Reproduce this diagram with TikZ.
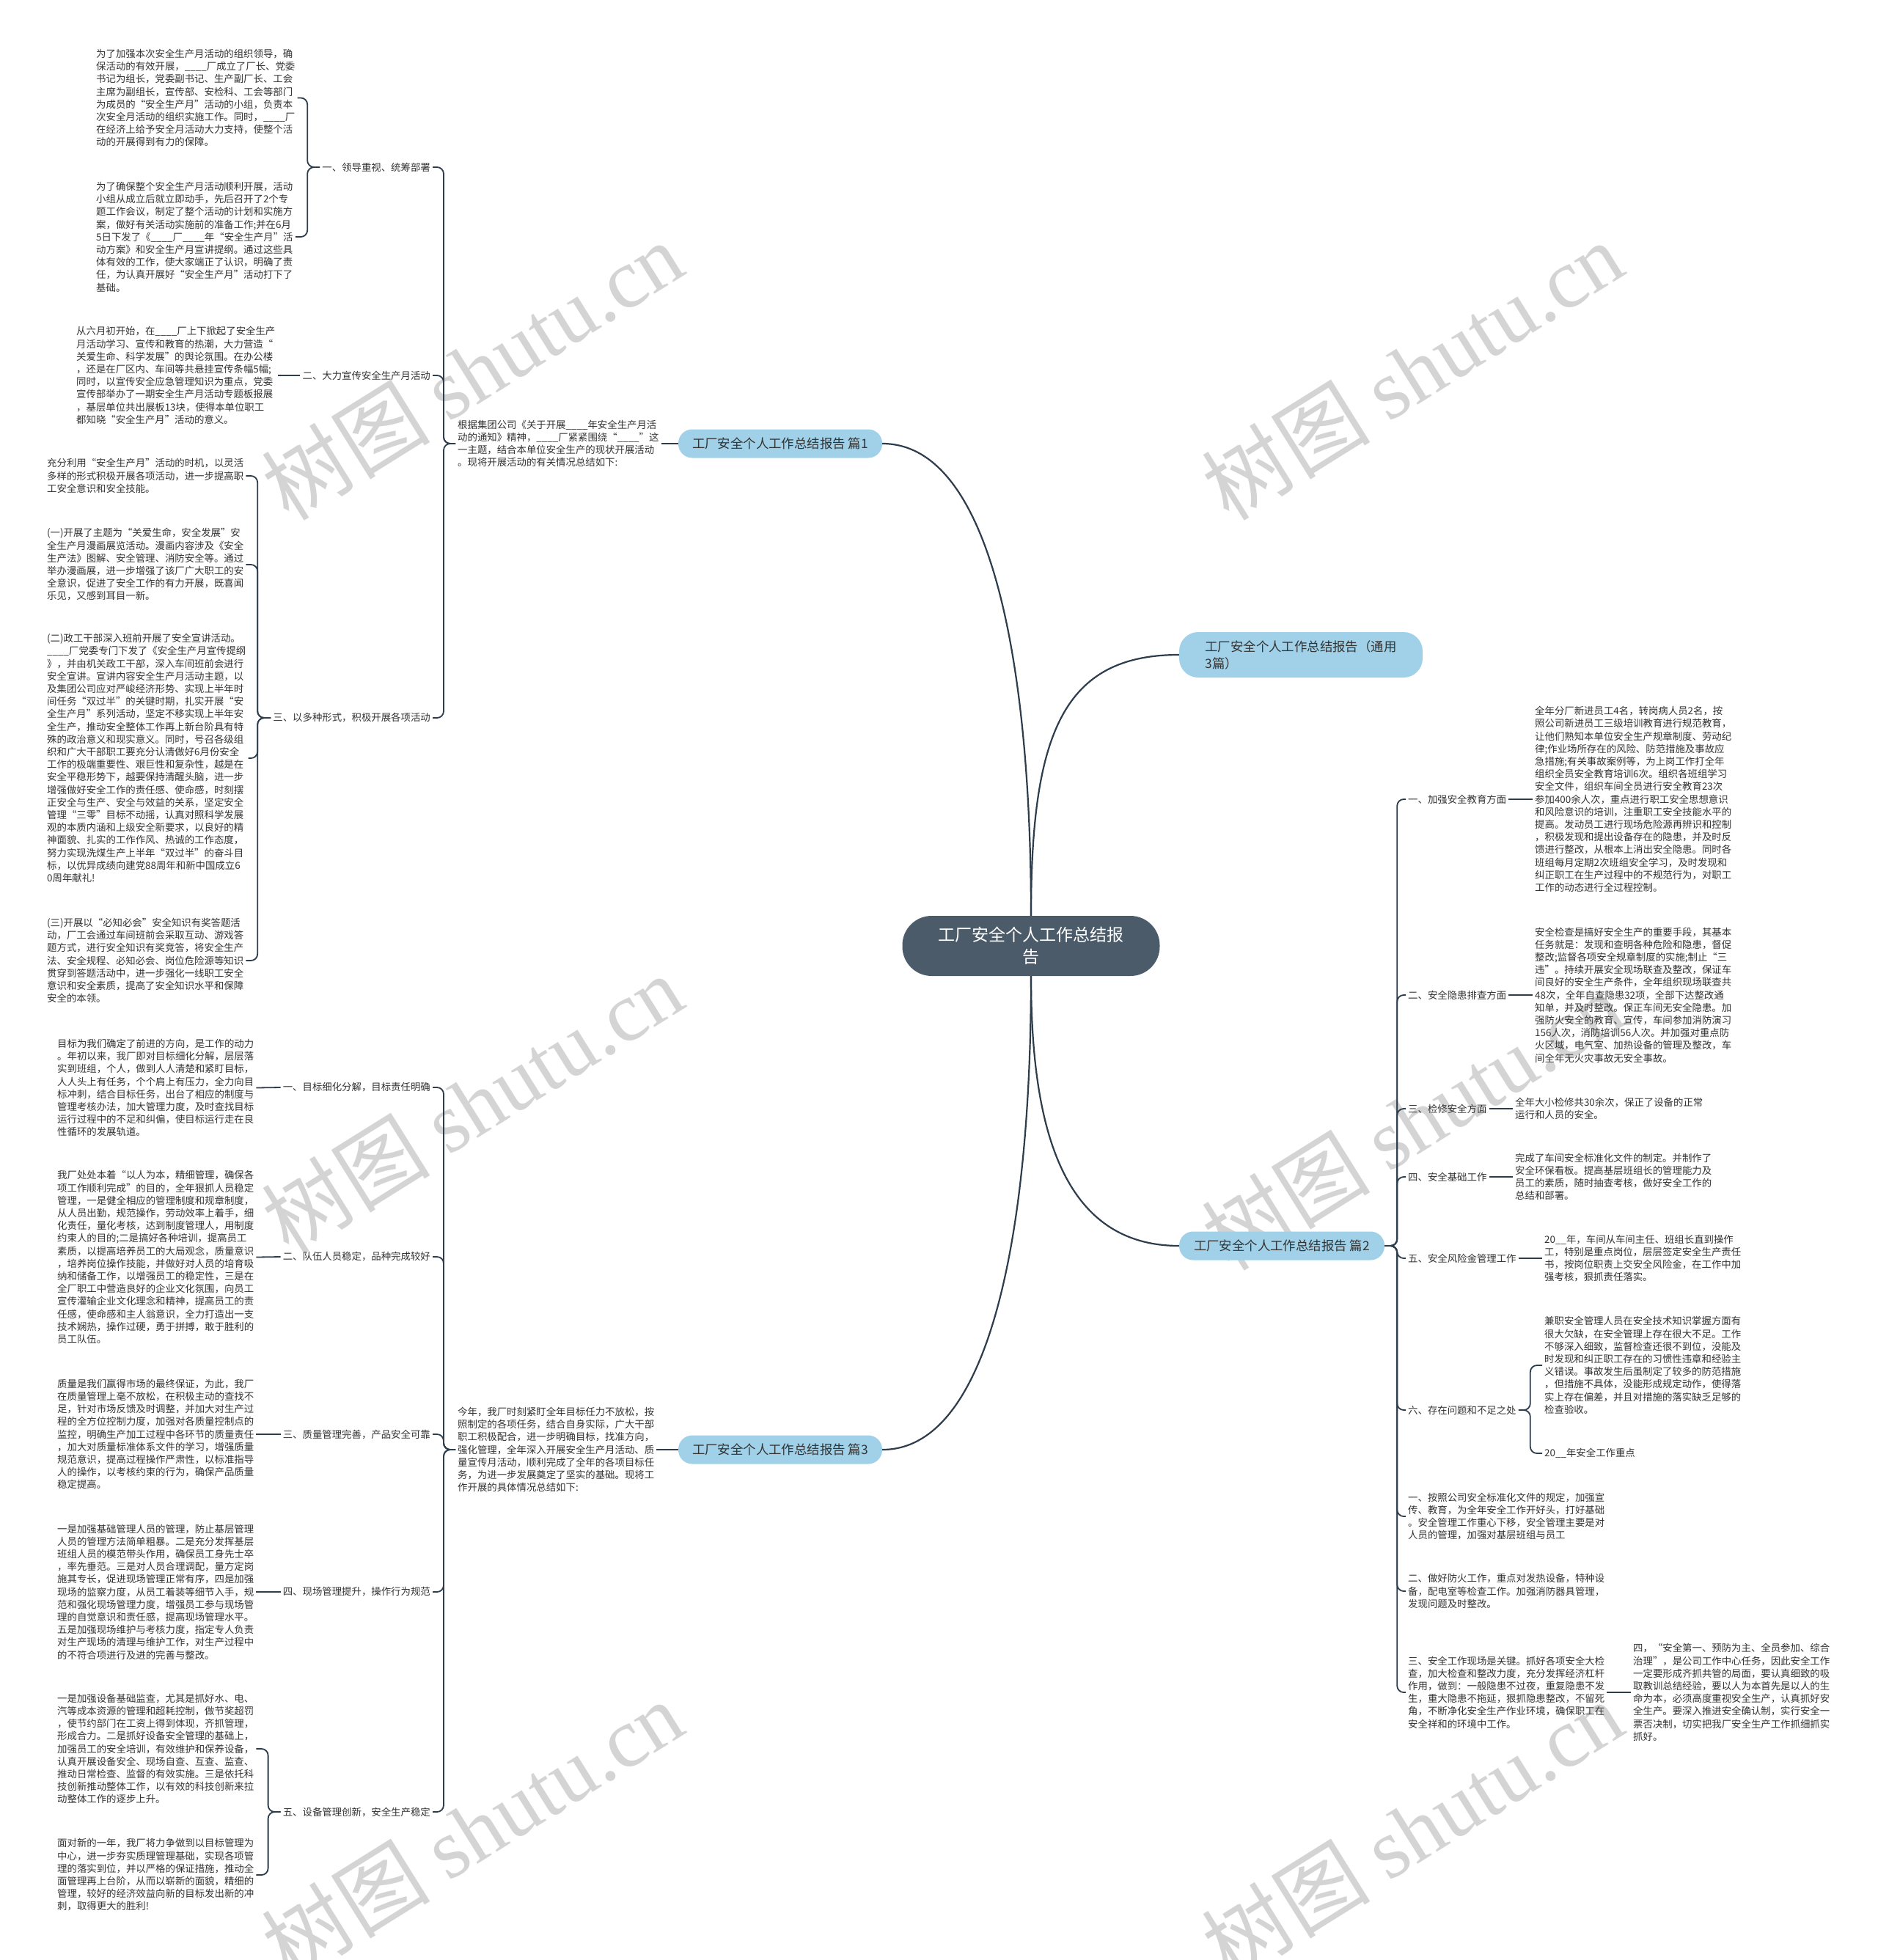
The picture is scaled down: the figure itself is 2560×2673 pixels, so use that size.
\documentclass[tikz,border=0pt]{standalone}
\usepackage{fontspec}
\setmainfont{Noto Sans CJK SC}
\newfontfamily\wmlat{Liberation Serif}
\definecolor{txt}{HTML}{333333}
\definecolor{lineC}{HTML}{2E3D4C}
\definecolor{rootC}{HTML}{4B5B6A}
\definecolor{blueC}{HTML}{A0D1E8}
\definecolor{wmC}{HTML}{D4D4D4}
\newcommand{\pfont}{\fontsize{13.4}{17.2}\selectfont}
\newcommand{\blk}{\_\_\_\_}
\begin{document}
\begin{tikzpicture}[x=1pt,y=-1pt,
  para/.style={anchor=west, align=left, inner sep=3pt, font=\pfont, text=txt},
  labl/.style={inner sep=3pt, font=\pfont, text=txt},
  labr/.style={labl, anchor=east},
  labw/.style={labl, anchor=west},
  branch/.style={fill=blueC, rounded corners=19pt, minimum width=278pt, minimum height=39pt, inner sep=0pt, font=\fontsize{17.4}{23}\selectfont, text=txt},
  rootn/.style={fill=rootC, rounded corners=40pt, minimum width=351pt, minimum height=82pt, align=center, inner sep=0pt, font=\fontsize{23}{30}\selectfont, text=white},
  mainline/.style={draw=lineC, line width=2.2pt},
  brace/.style={draw=lineC, line width=1.8pt, rounded corners=9pt},
  wm/.style={text=wmC, rotate=32, font=\fontsize{115}{115}\selectfont}
]
\useasboundingbox[fill=white] (0,0) rectangle (2560,2673);

% watermarks
\node[wm] (w1) at (644,505) {树图 {\wmlat shutu.cn}};
\node[wm] (w2) at (1926,505) {树图 {\wmlat shutu.cn}};
\node[wm] (w3) at (644,1505) {树图 {\wmlat shutu.cn}};
\node[wm] (w4) at (1926,1528) {树图 {\wmlat shutu.cn}};
\node[wm] (w5) at (644,2495) {树图 {\wmlat shutu.cn}};
\node[wm] (w6) at (1926,2495) {树图 {\wmlat shutu.cn}};

% root and branches
\node[rootn] (root) at (1406,1290) {工厂安全个人工作总结报\\告};
\node[branch] (p1) at (1064,605) {工厂安全个人工作总结报告 篇1};
\node[branch, minimum width=332pt, minimum height=62pt, rounded corners=26pt, align=left] (t) at (1774,893) {工厂安全个人工作总结报告（通用\\3篇）};
\node[branch, minimum width=280pt] (p2) at (1748,1699) {工厂安全个人工作总结报告 篇2};
\node[branch] (p3) at (1064,1977) {工厂安全个人工作总结报告 篇3};

\draw[mainline] (root.north) .. controls (1406,900) and (1350,605) .. (p1.east);
\draw[mainline] (root.north) .. controls (1406,1000) and (1450,893) .. (t.west);
\draw[mainline] (root.south) .. controls (1406,1530) and (1445,1699) .. (p2.west);
\draw[mainline] (root.south) .. controls (1406,1680) and (1350,1977) .. (p3.east);

% ===== 篇1 =====
\node[para] (i1) at (621,605) {根据集团公司《关于开展\blk 年安全生产月活\\动的通知》精神，\blk 厂紧紧围绕“\blk ”这\\一主题，结合本单位安全生产的现状开展活动\\。现将开展活动的有关情况总结如下:};
\draw[brace] (p1.west) -- (i1.east);

\node[labr] (l11) at (590,228) {一、领导重视、统筹部署};
\node[labr] (l12) at (590,512) {二、大力宣传安全生产月活动};
\node[labr] (l13) at (590,979) {三、以多种形式，积极开展各项活动};
\draw[brace] (i1.west) -- ++(-16,0) |- (l11.east);
\draw[brace] (i1.west) -- ++(-16,0) |- (l12.east);
\draw[brace] (i1.west) -- ++(-16,0) |- (l13.east);

\node[para] (a11a) at (128,133.5) {为了加强本次安全生产月活动的组织领导，确\\保活动的有效开展，\blk 厂成立了厂长、党委\\书记为组长，党委副书记、生产副厂长、工会\\主席为副组长，宣传部、安检科、工会等部门\\为成员的“安全生产月”活动的小组，负责本\\次安全月活动的组织实施工作。同时，\blk 厂\\在经济上给予安全月活动大力支持，使整个活\\动的开展得到有力的保障。};
\node[para] (a11b) at (128,323) {为了确保整个安全生产月活动顺利开展，活动\\小组从成立后就立即动手，先后召开了2个专\\题工作会议，制定了整个活动的计划和实施方\\案，做好有关活动实施前的准备工作;并在6月\\5日下发了《\blk 厂\blk 年“安全生产月”活\\动方案》和安全生产月宣讲提纲。通过这些具\\体有效的工作，使大家端正了认识，明确了责\\任，为认真开展好“安全生产月”活动打下了\\基础。};
\draw[brace] (l11.west) -- ++(-17,0) |- (a11a.east);
\draw[brace] (l11.west) -- ++(-17,0) |- (a11b.east);

\node[para] (a12) at (101,512) {从六月初开始，在\blk 厂上下掀起了安全生产\\月活动学习、宣传和教育的热潮，大力营造“\\关爱生命、科学发展”的舆论氛围。在办公楼\\，还是在厂区内、车间等共悬挂宣传条幅5幅;\\同时，以宣传安全应急管理知识为重点，党委\\宣传部举办了一期安全生产月活动专题板报展\\，基层单位共出展板13块，使得本单位职工\\都知晓“安全生产月”活动的意义。};
\draw[brace] (l12.west) -- (a12.east);

\node[para] (a13a) at (61,649) {充分利用“安全生产月”活动的时机，以灵活\\多样的形式积极开展各项活动，进一步提高职\\工安全意识和安全技能。};
\node[para] (a13b) at (61,770) {(一)开展了主题为“关爱生命，安全发展”安\\全生产月漫画展览活动。漫画内容涉及《安全\\生产法》图解、安全管理、消防安全等。通过\\举办漫画展，进一步增强了该厂广大职工的安\\全意识，促进了安全工作的有力开展，既喜闻\\乐见，又感到耳目一新。};
\node[para] (a13c) at (61,1034) {(二)政工干部深入班前开展了安全宣讲活动。\\\blk 厂党委专门下发了《安全生产月宣传提纲\\》，并由机关政工干部，深入车间班前会进行\\安全宣讲。宣讲内容安全生产月活动主题，以\\及集团公司应对严峻经济形势、实现上半年时\\间任务“双过半”的关键时期，扎实开展“安\\全生产月”系列活动，坚定不移实现上半年安\\全生产，推动安全整体工作再上新台阶具有特\\殊的政治意义和现实意义。同时，号召各级组\\织和广大干部职工要充分认清做好6月份安全\\工作的极端重要性、艰巨性和复杂性，越是在\\安全平稳形势下，越要保持清醒头脑，进一步\\增强做好安全工作的责任感、使命感，时刻摆\\正安全与生产、安全与效益的关系，坚定安全\\管理“三零”目标不动摇，认真对照科学发展\\观的本质内涵和上级安全新要求，以良好的精\\神面貌、扎实的工作作风、热诚的工作态度，\\努力实现洗煤生产上半年“双过半”的奋斗目\\标，以优异成绩向建党88周年和新中国成立6\\0周年献礼!};
\node[para] (a13d) at (61,1310) {(三)开展以“必知必会”安全知识有奖答题活\\动，厂工会通过车间班前会采取互动、游戏答\\题方式，进行安全知识有奖竞答，将安全生产\\法、安全规程、必知必会、岗位危险源等知识\\贯穿到答题活动中，进一步强化一线职工安全\\意识和安全素质，提高了安全知识水平和保障\\安全的本领。};
\draw[brace] (l13.west) -- ++(-18,0) |- (a13a.east);
\draw[brace] (l13.west) -- ++(-18,0) |- (a13b.east);
\draw[brace] (l13.west) -- ++(-18,0) |- (a13c.east);
\draw[brace] (l13.west) -- ++(-18,0) |- (a13d.east);

% ===== 篇3 =====
\node[para] (i3) at (621,1977) {今年，我厂时刻紧盯全年目标任力不放松，按\\照制定的各项任务，结合自身实际，广大干部\\职工积极配合，进一步明确目标，找准方向，\\强化管理，全年深入开展安全生产月活动、质\\量宣传月活动，顺利完成了全年的各项目标任\\务，为进一步发展奠定了坚实的基础。现将工\\作开展的具体情况总结如下:};
\draw[brace] (p3.west) -- (i3.east);

\node[labr] (l31) at (590,1483) {一、目标细化分解，目标责任明确};
\node[labr] (l32) at (590,1714) {二、队伍人员稳定，品种完成较好};
\node[labr] (l33) at (590,1956) {三、质量管理完善，产品安全可靠};
\node[labr] (l34) at (590,2171) {四、现场管理提升，操作行为规范};
\node[labr] (l35) at (590,2471) {五、设备管理创新，安全生产稳定};
\foreach \n in {l31,l32,l33,l34,l35}
  \draw[brace] (i3.west) -- ++(-16,0) |- (\n.east);

\node[para] (a31) at (75,1483.5) {目标为我们确定了前进的方向，是工作的动力\\。年初以来，我厂即对目标细化分解，层层落\\实到班组，个人，做到人人清楚和紧盯目标，\\人人头上有任务，个个肩上有压力，全力向目\\标冲刺，结合目标任务，出台了相应的制度与\\管理考核办法，加大管理力度，及时查找目标\\运行过程中的不足和纠偏，使目标运行走在良\\性循环的发展轨道。};
\draw[brace] (l31.west) -- (a31.east);

\node[para] (a32) at (75,1714.5) {我厂处处本着“以人为本，精细管理，确保各\\项工作顺利完成”的目的，全年狠抓人员稳定\\管理，一是健全相应的管理制度和规章制度，\\从人员出勤，规范操作，劳动效率上着手，细\\化责任，量化考核，达到制度管理人，用制度\\约束人的目的;二是搞好各种培训，提高员工\\素质，以提高培养员工的大局观念，质量意识\\，培养岗位操作技能，并做好对人员的培育吸\\纳和储备工作，以增强员工的稳定性，三是在\\全厂职工中营造良好的企业文化氛围，向员工\\宣传灌输企业文化理念和精神，提高员工的责\\任感，使命感和主人翁意识，全力打造出一支\\技术娴热，操作过硬，勇于拼搏，敢于胜利的\\员工队伍。};
\draw[brace] (l32.west) -- (a32.east);

\node[para] (a33) at (75,1956) {质量是我们赢得市场的最终保证，为此，我厂\\在质量管理上毫不放松，在积极主动的查找不\\足，针对市场反馈及时调整，并加大对生产过\\程的全方位控制力度，加强对各质量控制点的\\监控，明确生产加工过程中各环节的质量责任\\，加大对质量标准体系文件的学习，增强质量\\规范意识，提高过程操作严肃性，以标准指导\\人的操作，以考核约束的行为，确保产品质量\\稳定提高。};
\draw[brace] (l33.west) -- (a33.east);

\node[para] (a34) at (75,2171) {一是加强基础管理人员的管理，防止基层管理\\人员的管理方法简单粗暴。二是充分发挥基层\\班组人员的模范带头作用，确保员工身先士卒\\，率先垂范。三是对人员合理调配，量方定岗\\施其专长，促进现场管理正常有序，四是加强\\现场的监察力度，从员工着装等细节入手，规\\范和强化现场管理力度，增强员工参与现场管\\理的自觉意识和责任感，提高现场管理水平。\\五是加强现场维护与考核力度，指定专人负责\\对生产现场的清理与维护工作，对生产过程中\\的不符合项进行及进的完善与整改。};
\draw[brace] (l34.west) -- (a34.east);

\node[para] (a35a) at (75,2385) {一是加强设备基础监查，尤其是抓好水、电、\\汽等成本资源的管理和超耗控制，做节奖超罚\\，使节约部门在工资上得到体现，齐抓管理，\\形成合力。二是抓好设备安全管理的基础上，\\加强员工的安全培训，有效维护和保养设备，\\认真开展设备安全、现场自查、互查、监查、\\推动日常检查、监督的有效实施。三是依托科\\技创新推动整体工作，以有效的科技创新来拉\\动整体工作的逐步上升。};
\node[para] (a35b) at (75,2557) {面对新的一年，我厂将力争做到以目标管理为\\中心，进一步夯实质理管理基础，实现各项管\\理的落实到位，并以严格的保证措施，推动全\\面管理再上台阶，从而以崭新的面貌，精细的\\管理，较好的经济效益向新的目标发出新的冲\\刺，取得更大的胜利!};
\draw[brace] (l35.west) -- ++(-17,0) |- (a35a.east);
\draw[brace] (l35.west) -- ++(-17,0) |- (a35b.east);

% ===== 篇2 =====
\node[labw] (l21) at (1917,1090) {一、加强安全教育方面};
\node[labw] (l22) at (1917,1357) {二、安全隐患排查方面};
\node[labw] (l23) at (1917,1512) {三、检修安全方面};
\node[labw] (l24) at (1917,1605) {四、安全基础工作};
\node[labw] (l25) at (1917,1716) {五、安全风险金管理工作};
\node[labw] (l26) at (1917,1923) {六、存在问题和不足之处};
\node[para] (b1) at (1917,2068) {一、按照公司安全标准化文件的规定，加强宣\\传、教育，为全年安全工作开好头，打好基础\\。安全管理工作重心下移，安全管理主要是对\\人员的管理，加强对基层班组与员工};
\node[para] (b2) at (1917,2170) {二、做好防火工作，重点对发热设备，特种设\\备，配电室等检查工作。加强消防器具管理，\\发现问题及时整改。};
\node[para] (b3) at (1917,2308) {三、安全工作现场是关键。抓好各项安全大检\\查，加大检查和整改力度，充分发挥经济杠杆\\作用，做到：一般隐患不过夜，重复隐患不发\\生，重大隐患不拖延，狠抓隐患整改，不留死\\角，不断净化安全生产作业环境，确保职工在\\安全祥和的环境中工作。};
\foreach \n in {l21,l22,l23,l24,l25,l26,b1,b2,b3}
  \draw[brace] (p2.east) -- ++(17,0) |- (\n.west);

\node[para] (a21) at (2090,1090) {全年分厂新进员工4名，转岗病人员2名，按\\照公司新进员工三级培训教育进行规范教育，\\让他们熟知本单位安全生产规章制度、劳动纪\\律;作业场所存在的风险、防范措施及事故应\\急措施;有关事故案例等，为上岗工作打全年\\组织全员安全教育培训6次。组织各班组学习\\安全文件，组织车间全员进行安全教育23次\\参加400余人次，重点进行职工安全思想意识\\和风险意识的培训，注重职工安全技能水平的\\提高。发动员工进行现场危险源再辨识和控制\\，积极发现和提出设备存在的隐患，并及时反\\馈进行整改，从根本上消出安全隐患。同时各\\班组每月定期2次班组安全学习，及时发现和\\纠正职工在生产过程中的不规范行为，对职工\\工作的动态进行全过程控制。};
\draw[brace] (l21.east) -- (a21.west);

\node[para] (a22) at (2090,1357) {安全检查是搞好安全生产的重要手段，其基本\\任务就是：发现和查明各种危险和隐患，督促\\整改;监督各项安全规章制度的实施;制止“三\\违”。持续开展安全现场联查及整改，保证车\\间良好的安全生产条件，全年组织现场联查共\\48次，全年自查隐患32项，全部下达整改通\\知单，并及时整改。保正车间无安全隐患。加\\强防火安全的教育、宣传，车间参加消防演习\\156人次，消防培训56人次。并加强对重点防\\火区域，电气室、加热设备的管理及整改，车\\间全年无火灾事故无安全事故。};
\draw[brace] (l22.east) -- (a22.west);

\node[para] (a23) at (2063,1512) {全年大小检修共30余次，保正了设备的正常\\运行和人员的安全。};
\draw[brace] (l23.east) -- (a23.west);

\node[para] (a24) at (2063,1605) {完成了车间安全标准化文件的制定。并制作了\\安全环保看板。提高基层班组长的管理能力及\\员工的素质，随时抽查考核，做好安全工作的\\总结和部署。};
\draw[brace] (l24.east) -- (a24.west);

\node[para] (a25) at (2103,1716) {20\_\_年，车间从车间主任、班组长直到操作\\工，特别是重点岗位，层层签定安全生产责任\\书，按岗位职责上交安全风险金，在工作中加\\强考核，狠抓责任落实。};
\draw[brace] (l25.east) -- (a25.west);

\node[para] (a26a) at (2103,1862) {兼职安全管理人员在安全技术知识掌握方面有\\很大欠缺，在安全管理上存在很大不足。工作\\不够深入细致，监督检查还很不到位，没能及\\时发现和纠正职工存在的习惯性违章和经验主\\义错误。事故发生后虽制定了较多的防范措施\\，但措施不具体，没能形成规定动作，使得落\\实上存在偏差，并且对措施的落实缺乏足够的\\检查验收。};
\node[para] (a26b) at (2103,1982) {20\_\_年安全工作重点};
\draw[brace] (l26.east) -- ++(16,0) |- (a26a.west);
\draw[brace] (l26.east) -- ++(16,0) |- (a26b.west);

\node[para] (a4) at (2224,2308) {四，“安全第一、预防为主、全员参加、综合\\治理”，是公司工作中心任务，因此安全工作\\一定要形成齐抓共管的局面，要认真细致的吸\\取教训总结经验，要以人为本首先是以人的生\\命为本，必须高度重视安全生产，认真抓好安\\全生产。要深入推进安全确认制，实行安全一\\票否决制，切实把我厂安全生产工作抓细抓实\\抓好。};
\draw[brace] (b3.east) -- (a4.west);
\end{tikzpicture}
\end{document}
